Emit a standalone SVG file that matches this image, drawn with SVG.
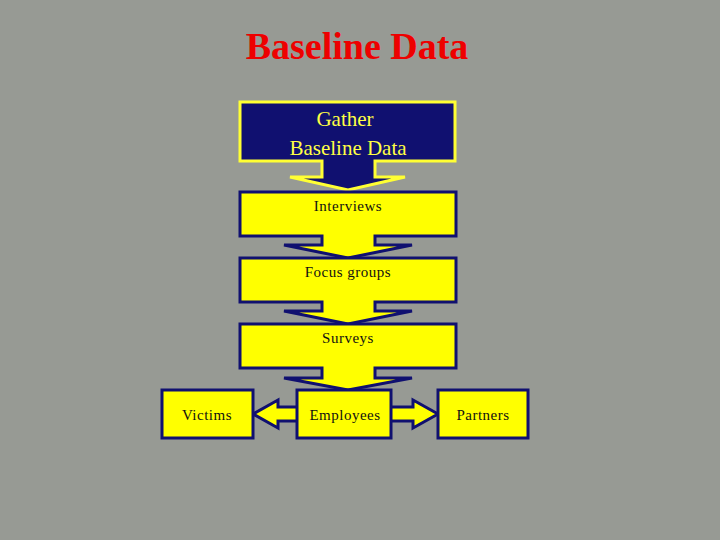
<svg xmlns="http://www.w3.org/2000/svg" width="720" height="540" viewBox="0 0 720 540">
<style>
.y{fill:#ffff00;stroke:#101070;stroke-width:3;stroke-linejoin:miter}
.n{fill:#101070;stroke:#ffff33;stroke-width:3}
.t{font-family:"Liberation Serif",serif;font-size:15px;fill:#111;text-anchor:middle;letter-spacing:0.5px}
</style>
<rect width="720" height="540" fill="#979a94"/>
<text x="357" y="59" font-family="Liberation Serif,serif" font-weight="bold" font-size="38" fill="#ee0000" text-anchor="middle">Baseline Data</text>
<g id="connectors">
<path class="y" d="M253,414L278,400L278,407L413,407L413,400L438,414L413,428L413,421L278,421L278,428Z"/>
</g>
<g id="gather">
<path class="n" d="M240,102H455V161H375V177H405L348,190L290,177H322V161H240Z"/>
<text x="345" y="126" font-family="Liberation Serif,serif" font-size="21" fill="#ffff44" text-anchor="middle">Gather</text>
<text x="348" y="155" font-family="Liberation Serif,serif" font-size="21" fill="#ffff44" text-anchor="middle">Baseline Data</text>
</g>
<g id="interviews">
<path class="y" d="M240,192H456V236H375V245H412L348,258L284,245H322V236H240Z"/>
<text class="t" x="348" y="211">Interviews</text>
</g>
<g id="focus">
<path class="y" d="M240,258H456V302H375V311H412L348,324L284,311H322V302H240Z"/>
<text class="t" x="348" y="277">Focus groups</text>
</g>
<g id="surveys">
<path class="y" d="M240,324H456V368H375V378H412L348,390L284,378H322V368H240Z"/>
<text class="t" x="348" y="343">Surveys</text>
</g>
<g id="employees">
<rect class="y" x="297" y="390" width="94" height="48"/>
<text class="t" x="345" y="420">Employees</text>
</g>
<g id="victims">
<rect class="y" x="162" y="390" width="91" height="48"/>
<text class="t" x="207" y="420">Victims</text>
</g>
<g id="partners">
<rect class="y" x="438" y="390" width="90" height="48"/>
<text class="t" x="483" y="420">Partners</text>
</g>
</svg>
